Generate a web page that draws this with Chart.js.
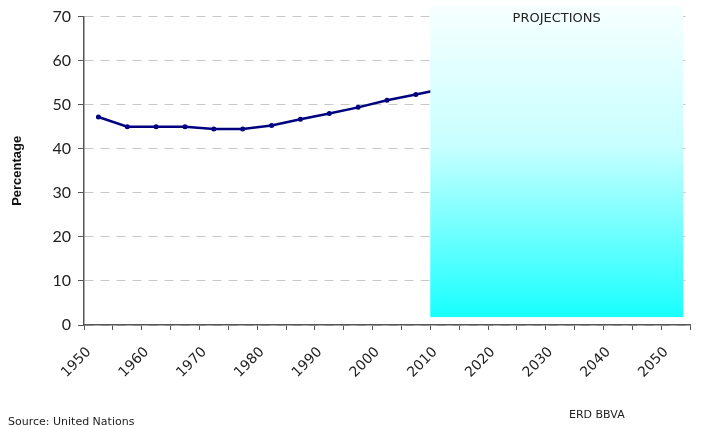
<!DOCTYPE html>
<html>
<head>
<meta charset="utf-8">
<script src="https://cdn.jsdelivr.net/npm/chart.js@4"></script>
<style>
  html,body{margin:0;padding:0;background:#fff;}
  #wrap{position:relative;width:702px;height:427px;overflow:hidden;}
  canvas{display:block;}
  .note{position:absolute;font-family:"DejaVu Sans",sans-serif;font-size:11px;color:#222;white-space:nowrap;}
</style>
</head>
<body>
<div id="wrap">
  <canvas id="c" width="702" height="427"></canvas>
  <div class="note" style="left:8px;top:415px;">Source: United Nations</div>
  <div class="note" style="left:569px;top:408px;">ERD BBVA</div>
</div>
<script>
// Period mid-points (5-year periods) and urban share values (%)
const periods = [1952.5, 1957.5, 1962.5, 1967.5, 1972.5, 1977.5, 1982.5, 1987.5, 1992.5, 1997.5, 2002.5, 2007.5, 2012.5];
const percentage = [47.2, 45.0, 45.0, 45.0, 44.5, 44.5, 45.3, 46.7, 48.0, 49.4, 51.0, 52.3, 53.7];
const xTickLabels = [1950, 1960, 1970, 1980, 1990, 2000, 2010, 2020, 2030, 2040, 2050];
const projectionRange = [2010, 2053.8];
const projectionYRange = [1.8, 72.5];
const projectionLabel = 'PROJECTIONS';
const yTitle = 'Percentage';

const projectionPlugin = {
  id: 'projection',
  afterDatasetsDraw(chart) {
    const {ctx, scales: {x, y}} = chart;
    const x0 = x.getPixelForValue(projectionRange[0]);
    const x1 = x.getPixelForValue(projectionRange[1]);
    const yTop = y.getPixelForValue(projectionYRange[1]);
    const yBot = y.getPixelForValue(projectionYRange[0]);
    ctx.save();
    const g = ctx.createLinearGradient(0, yTop, 0, yBot);
    g.addColorStop(0, '#f7ffff');
    g.addColorStop(0.45, '#c8ffff');
    g.addColorStop(1, '#18ffff');
    ctx.fillStyle = g;
    ctx.fillRect(x0, yTop, x1 - x0, yBot - yTop);
    ctx.fillStyle = '#222';
    ctx.font = '13px "DejaVu Sans", sans-serif';
    ctx.textAlign = 'center';
    ctx.textBaseline = 'middle';
    ctx.fillText(projectionLabel, (x0 + x1) / 2, yTop + 13);
    ctx.restore();
  }
};

new Chart(document.getElementById('c'), {
  type: 'line',
  data: {
    datasets: [{
      data: periods.map((p, i) => ({x: p, y: percentage[i]})),
      borderColor: '#000080',
      backgroundColor: '#000080',
      borderWidth: 2.5,
      pointRadius: 2.5,
      pointBorderWidth: 0,
      pointBackgroundColor: '#000080',
      tension: 0,
      fill: false
    }]
  },
  options: {
    responsive: false,
    animation: false,
    layout: {padding: {left: 10, right: 12, top: 10, bottom: 0}},
    plugins: {legend: {display: false}, tooltip: {enabled: false}},
    scales: {
      x: {
        type: 'linear',
        min: 1950,
        max: 2055,
        afterBuildTicks(scale) {
          const t = [];
          for (let v = 1950; v <= 2055; v += 5) t.push({value: v});
          scale.ticks = t;
        },
        afterFit(scale) {
          scale.height = 427 - 325;
          scale.paddingLeft = 0;
          scale.paddingRight = 0;
        },
        grid: {drawOnChartArea: false, drawTicks: true, tickLength: 5, tickColor: '#555', tickWidth: 1},
        border: {color: '#555', width: 1.5},
        ticks: {
          autoSkip: false,
          minRotation: 45,
          maxRotation: 45,
          labelOffset: 5,
          padding: 14,
          color: '#222',
          font: {family: '"DejaVu Sans", sans-serif', size: 14},
          callback: (v) => xTickLabels.includes(v) ? String(v) : ''
        }
      },
      y: {
        min: 0,
        max: 70,
        afterFit(scale) { scale.width = 74; },
        grid: {color: '#c8c8c8', lineWidth: 1, drawTicks: true, tickLength: 6, tickColor: '#555', tickBorderDash: []},
        border: {color: '#555', width: 1.5, dash: [9, 7]},
        ticks: {
          stepSize: 10,
          padding: 7,
          color: '#222',
          font: {family: 'Lato, "DejaVu Sans", sans-serif', size: 16}
        },
        title: {
          display: true,
          text: yTitle,
          color: '#111',
          padding: {top: 0, bottom: 4},
          font: {family: '"Liberation Sans", Arial, sans-serif', size: 13, weight: 'bold'}
        }
      }
    }
  },
  plugins: [projectionPlugin]
});
</script>
</body>
</html>
